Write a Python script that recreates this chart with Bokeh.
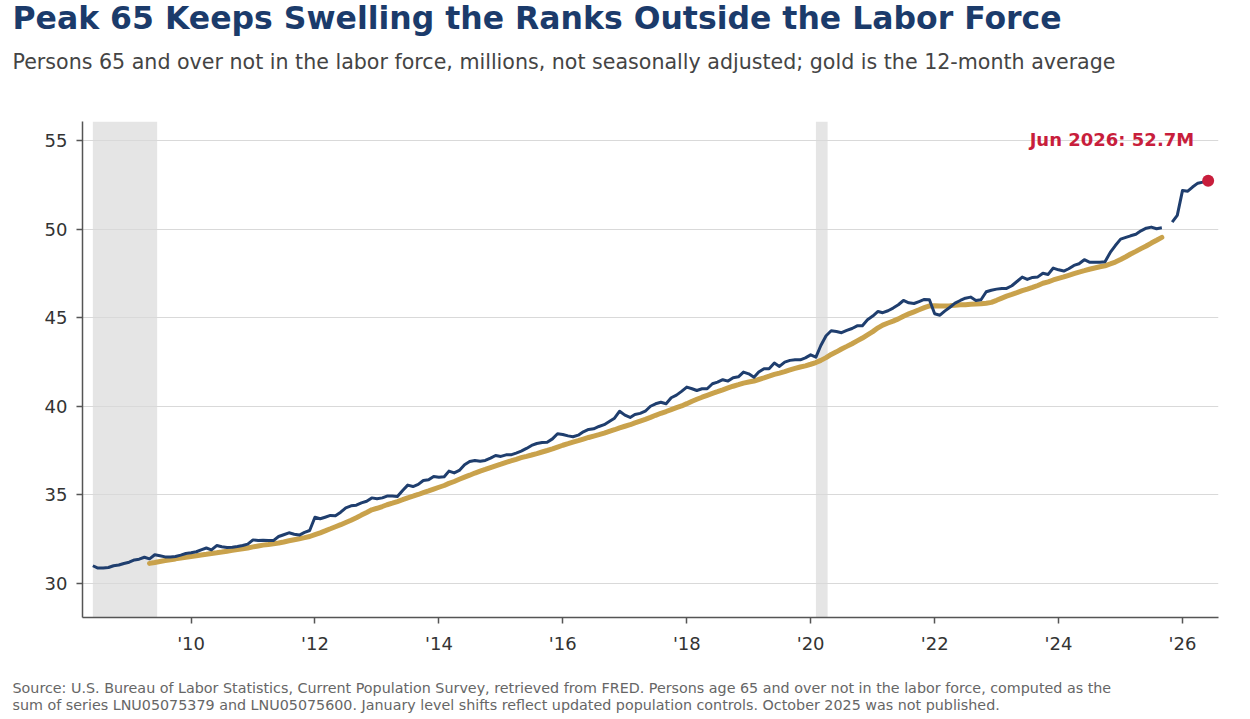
import pandas as pd
from bokeh.plotting import figure
from bokeh.models import (ColumnDataSource, FixedTicker, DatetimeTickFormatter,
                          BoxAnnotation, Label, Range1d, Title)
from bokeh.embed import file_html
from bokeh.resources import INLINE

# Persons 65+ not in the labor force, millions, monthly (NSA), starting June 2008
first_month = "2008-06"
m2008 = [31.00, 30.87, 30.88, 30.90, 31.00, 31.04, 31.13]
m2009 = [31.20, 31.33, 31.37, 31.48, 31.39, 31.62, 31.56, 31.50, 31.50, 31.52, 31.60, 31.69]
m2010 = [31.73, 31.79, 31.90, 32.00, 31.90, 32.14, 32.07, 32.03, 32.05, 32.09, 32.14, 32.22]
m2011 = [32.46, 32.42, 32.44, 32.42, 32.42, 32.65, 32.75, 32.86, 32.78, 32.73, 32.88, 32.99]
m2012 = [33.74, 33.65, 33.74, 33.84, 33.82, 34.02, 34.27, 34.38, 34.42, 34.55, 34.64, 34.83]
m2013 = [34.78, 34.83, 34.93, 34.93, 34.91, 35.25, 35.55, 35.47, 35.59, 35.81, 35.85, 36.04]
m2014 = [36.00, 36.02, 36.34, 36.24, 36.38, 36.70, 36.88, 36.94, 36.90, 36.94, 37.07, 37.22]
m2015 = [37.17, 37.26, 37.26, 37.36, 37.47, 37.62, 37.79, 37.90, 37.96, 37.97, 38.16, 38.45]
m2016 = [38.41, 38.33, 38.28, 38.37, 38.56, 38.69, 38.73, 38.86, 38.96, 39.14, 39.33, 39.72]
m2017 = [39.50, 39.37, 39.54, 39.60, 39.72, 40.00, 40.14, 40.23, 40.14, 40.48, 40.63, 40.84]
m2018 = [41.08, 40.99, 40.89, 40.99, 40.99, 41.27, 41.36, 41.50, 41.42, 41.61, 41.66, 41.93]
m2019 = [41.83, 41.64, 41.93, 42.12, 42.12, 42.44, 42.25, 42.49, 42.59, 42.62, 42.62, 42.73]
m2020 = [42.90, 42.77, 43.43, 43.98, 44.26, 44.22, 44.15, 44.28, 44.39, 44.54, 44.55, 44.88]
m2021 = [45.09, 45.35, 45.28, 45.39, 45.54, 45.73, 45.97, 45.84, 45.80, 45.91, 46.03, 46.01]
m2022 = [45.22, 45.14, 45.37, 45.59, 45.82, 45.97, 46.10, 46.16, 45.97, 46.01, 46.46, 46.55]
m2023 = [46.61, 46.65, 46.65, 46.80, 47.04, 47.29, 47.16, 47.27, 47.30, 47.51, 47.44, 47.80]
m2024 = [47.70, 47.63, 47.76, 47.95, 48.04, 48.27, 48.13, 48.13, 48.13, 48.15, 48.68, 49.07]
m2025 = [49.43, 49.53, 49.62, 49.71, 49.90, 50.05, 50.11, 50.02, 50.07, None, 50.39, 50.77]
m2026 = [52.18, 52.14, 52.37, 52.59, 52.65, 52.72]

# NBER recessions (clipped to the data window)
recession_start = ["2008-06-01", "2020-02-01"]
recession_end = ["2009-06-15", "2020-04-10"]

y_ticks = [30, 35, 40, 45, 50, 55]
x_tick_years = [2010, 2012, 2014, 2016, 2018, 2020, 2022, 2024, 2026]

TITLE = "Peak 65 Keeps Swelling the Ranks Outside the Labor Force"
SUBTITLE = ("Persons 65 and over not in the labor force, millions, not seasonally adjusted; "
            "gold is the 12-month average")
SOURCE_1 = ("Source: U.S. Bureau of Labor Statistics, Current Population Survey, retrieved from FRED. "
            "Persons age 65 and over not in the labor force, computed as the")
SOURCE_2 = ("sum of series LNU05075379 and LNU05075600. January level shifts reflect updated "
            "population controls. October 2025 was not published.")

NAVY = "#1b3b6b"
LINE_BLUE = "#1f3e6e"
GOLD = "#c9a24c"
RED = "#c81e3c"
FONT = "DejaVu Sans"

values = (m2008 + m2009 + m2010 + m2011 + m2012 + m2013 + m2014 + m2015 + m2016 +
          m2017 + m2018 + m2019 + m2020 + m2021 + m2022 + m2023 + m2024 + m2025 + m2026)
dates = pd.date_range(first_month, periods=len(values), freq="MS")
series = pd.Series([float("nan") if v is None else v for v in values], index=dates)
avg12 = series.rolling(12).mean()

src = ColumnDataSource(dict(date=dates, level=series.values, avg=avg12.values))

x_start = dates[0] - pd.DateOffset(months=2)
x_end = dates[-1] + pd.DateOffset(months=2)

p = figure(width=1250, height=719, x_axis_type="datetime",
           x_range=Range1d(x_start, x_end), y_range=Range1d(28.08, 56.07),
           output_backend="svg", toolbar_location=None,
           min_border_left=82, min_border_right=32, min_border_top=121, min_border_bottom=102)
p.outline_line_color = None
p.background_fill_color = "white"
p.border_fill_color = "white"

# recession shading
for s, e in zip(recession_start, recession_end):
    p.add_layout(BoxAnnotation(left=pd.Timestamp(s), right=pd.Timestamp(e),
                               fill_color="#e5e5e5", fill_alpha=1.0, line_color=None,
                               level="image"))

p.line("date", "avg", source=src, line_color=GOLD, line_width=5, line_cap="round")
p.line("date", "level", source=src, line_color=LINE_BLUE, line_width=3, line_join="round")

last_date = dates[-1]
last_val = values[-1]
p.scatter([last_date], [last_val], size=12, color=RED, line_color=None)
p.add_layout(Label(x=last_date, y=last_val, x_offset=-14, y_offset=41,
                   text=f"{last_date.strftime('%b %Y')}: {last_val:.1f}M",
                   text_align="right", text_baseline="middle", text_font=FONT,
                   text_font_style="bold", text_font_size="18px", text_color=RED))

# axes
p.xaxis.ticker = FixedTicker(ticks=[pd.Timestamp(f"{y}-01-01").value / 1e6 for y in x_tick_years])
p.xaxis.formatter = DatetimeTickFormatter(years="'%y", months="'%y", days="'%y",
                                          hours="'%y", minutes="'%y", seconds="'%y",
                                          milliseconds="'%y", microseconds="'%y")
p.yaxis.ticker = FixedTicker(ticks=y_ticks)
for ax in (p.xaxis, p.yaxis):
    ax.axis_line_color = "#555555"
    ax.axis_line_width = 1.5
    ax.major_tick_line_color = "#555555"
    ax.major_tick_line_width = 1.5
    ax.major_tick_out = 6
    ax.major_tick_in = 0
    ax.minor_tick_line_color = None
    ax.major_label_text_font = FONT
    ax.major_label_text_font_size = "18px"
    ax.major_label_text_color = "#333333"
p.yaxis.major_label_standoff = 9
p.xaxis.major_label_standoff = 9

p.xgrid.grid_line_color = None
p.ygrid.grid_line_color = "#d9d9d9"
p.ygrid.grid_line_width = 1

# headings above the frame (first added sits nearest the plot): gap, subtitle, title
p.add_layout(Title(text=" ", standoff=30, text_font=FONT, text_font_size="1px"), "above")
p.add_layout(Title(text=SUBTITLE, align="left", offset=-70, standoff=30,
                   text_font=FONT, text_font_size="20.6px", text_font_style="normal",
                   text_color="#444444"), "above")
p.add_layout(Title(text=TITLE, align="left", offset=-70, standoff=-7,
                   text_font=FONT, text_font_size="31.5px", text_font_style="bold",
                   text_color=NAVY), "above")
# footnote below the axis: gap, then two lines
p.add_layout(Title(text=" ", standoff=19, text_font=FONT, text_font_size="1px"), "below")
p.add_layout(Title(text=SOURCE_1, align="left", offset=-70, standoff=-1,
                   text_font=FONT, text_font_size="14.3px", text_font_style="normal",
                   text_color="#666666"), "below")
p.add_layout(Title(text=SOURCE_2, align="left", offset=-70, standoff=-2,
                   text_font=FONT, text_font_size="14.3px", text_font_style="normal",
                   text_color="#666666"), "below")

open("out.html", "w").write(file_html(p, INLINE))
